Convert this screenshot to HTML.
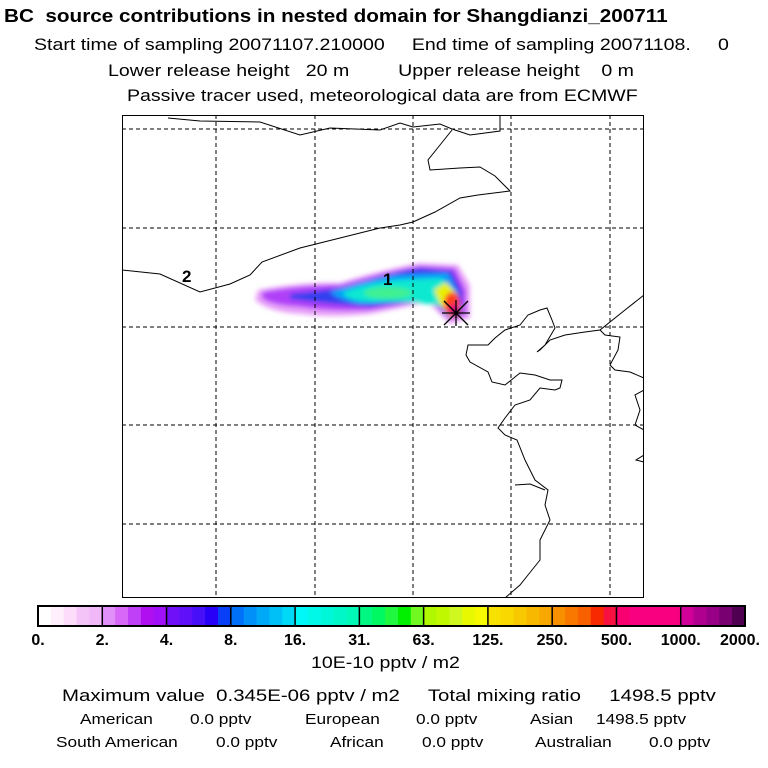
<!DOCTYPE html>
<html><head><meta charset="utf-8"><style>
body{margin:0;background:#fff;width:768px;height:768px;overflow:hidden;font-family:"Liberation Sans",sans-serif}
.t{position:absolute;white-space:nowrap;color:#000;transform:scaleX(1.15);transform-origin:0 0}
</style></head><body>
<div class="t" style="left:4px;top:6px;font-size:18px;font-weight:bold">BC&nbsp; source contributions in nested domain for Shangdianzi_200711</div>
<div class="t" style="left:34px;top:35px;font-size:17px">Start time of sampling 20071107.210000 &nbsp;&nbsp;&nbsp; End time of sampling 20071108. &nbsp;&nbsp;&nbsp; 0</div>
<div class="t" style="left:108px;top:61px;font-size:17px">Lower release height &nbsp; 20 m &nbsp; &nbsp; &nbsp; &nbsp; Upper release height &nbsp;&nbsp; 0 m</div>
<div class="t" style="left:127px;top:86px;font-size:17px">Passive tracer used, meteorological data are from ECMWF</div>
<svg width="768" height="768" style="position:absolute;left:0;top:0">
<defs><filter id="b" x="-20%" y="-50%" width="140%" height="200%"><feGaussianBlur stdDeviation="2.5"/></filter>
<clipPath id="c"><rect x="122" y="115" width="522" height="483"/></clipPath></defs>
<g clip-path="url(#c)">
<g filter="url(#b)">
<path d="M258,290 Q300,282 340,283 Q380,270 420,263 L458,265 L470,285 L470,318 L450,324 L438,312 L428,302 Q400,308 370,314 Q330,318 300,314 Q268,312 255,300 Z" fill="#e8a0f8"/>
<path d="M262,292 Q300,285 340,285 Q380,273 420,266 L455,268 L466,290 L466,315 L450,320 L438,308 L430,299 Q400,305 370,310 Q330,312 300,307 Q270,305 262,298 Z" fill="#b040f8"/>
<path d="M290,294 Q330,290 355,285 Q390,272 420,268 L452,271 L462,292 L462,313 L448,318 L436,302 Q400,303 370,307 Q330,304 290,299 Z" fill="#3040f0"/>
<path d="M330,292 Q360,281 395,275 L448,273 L458,294 L458,313 L447,316 L436,300 Q400,302 360,304 Q338,300 330,292 Z" fill="#00a0f8"/>
<path d="M342,293 Q370,282 400,280 L442,278 L455,298 L455,313 L440,306 Q405,300 375,302 Q350,302 342,293 Z" fill="#10e8d0"/>
<ellipse cx="388" cy="293" rx="24" ry="6" fill="#40f090"/>
<path d="M434,290 L446,282 L458,295 L462,312 L450,318 L440,304 Z" fill="#e8f000"/>
<ellipse cx="452" cy="304" rx="8" ry="12" fill="#ff4020"/>
<ellipse cx="455" cy="311" rx="6" ry="7" fill="#e00080"/>
<ellipse cx="457" cy="313" rx="3" ry="4" fill="#600060"/>
</g></g>
<g stroke="#000" stroke-width="1" stroke-dasharray="4,3" fill="none">
<line x1="216" y1="115" x2="216" y2="598"/><line x1="315" y1="115" x2="315" y2="598"/><line x1="413" y1="115" x2="413" y2="598"/><line x1="511" y1="115" x2="511" y2="598"/><line x1="610" y1="115" x2="610" y2="598"/>
<line x1="122" y1="129" x2="644" y2="129"/><line x1="122" y1="228" x2="644" y2="228"/><line x1="122" y1="327" x2="644" y2="327"/><line x1="122" y1="425" x2="644" y2="425"/><line x1="122" y1="524" x2="644" y2="524"/>
</g>
<g clip-path="url(#c)" stroke="#000" stroke-width="1" fill="none">
<path d="M168,118 L200,121 L260,122 L300,135 L330,128 L380,130 L400,123 L413,127 L440,124 L452,129 L470,135 L500,131 L500,116"/>
<path d="M452,130 L440,145 L428,160 L430,170 L460,168 L480,167 L495,176 L510,191 L478,195 L460,198 L435,212 L413,222 L400,225 L380,228 L340,238 L300,248 L262,262 L250,275 L230,284 L200,292 L160,274 L122,270"/>
<path d="M644,295 L625,310 L600,330 L585,332 L565,335 L550,340 L540,350 L537,352 L545,345 L555,328 L552,320 L547,308 L540,310 L528,315 L520,325 L505,330 L495,338 L488,345 L468,345 L466,355 L470,362 L488,372 L492,382 L505,385 L520,373 L535,375 L550,380 L562,380 L560,388 L555,390 L540,388 L530,400 L515,405 L505,418 L498,428 L505,435 L517,440 L525,460 L535,480 L548,490 L545,505 L550,520 L540,540 L540,560 L528,575 L520,585 L505,598"/>
<path d="M600,330 L605,335 L620,337 L618,350 L610,365 L615,370 L630,372 L644,378"/>
<path d="M515,485 L530,484 L545,490"/>
<path d="M644,390 L635,395 L640,410 L635,425 L644,430 M644,455 L636,460 L644,462"/>
</g>
<g stroke="#000" stroke-width="1.3">
<line x1="442" y1="313" x2="470" y2="313"/><line x1="456" y1="300" x2="456" y2="326"/><line x1="444" y1="301" x2="468" y2="325"/><line x1="468" y1="301" x2="444" y2="325"/>
</g>
<text x="182" y="282" font-size="17" font-family="Liberation Sans" font-weight="bold">2</text>
<text x="383" y="285" font-size="17" font-family="Liberation Sans" font-weight="bold">1</text>
<rect x="122.5" y="115.5" width="521" height="482" fill="none" stroke="#000"/>
<g id="cb"></g>
</svg>
<div class="t" style="left:311px;top:653px;font-size:17px">10E-10 pptv / m2</div>
<div class="t" style="left:62px;top:686px;font-size:17px;transform:scaleX(1.2)">Maximum value&nbsp; 0.345E-06 pptv / m2 &nbsp; &nbsp; Total mixing ratio &nbsp; &nbsp; 1498.5 pptv</div>
<div class="t" style="left:80px;top:711px;font-size:15px">American</div>
<div class="t" style="left:190px;top:711px;font-size:15px">0.0 pptv</div>
<div class="t" style="left:305px;top:711px;font-size:15px">European</div>
<div class="t" style="left:416px;top:711px;font-size:15px">0.0 pptv</div>
<div class="t" style="left:530px;top:711px;font-size:15px">Asian</div>
<div class="t" style="left:596px;top:711px;font-size:15px">1498.5 pptv</div>
<div class="t" style="left:56px;top:734px;font-size:15px">South American</div>
<div class="t" style="left:216px;top:734px;font-size:15px">0.0 pptv</div>
<div class="t" style="left:330px;top:734px;font-size:15px">African</div>
<div class="t" style="left:422px;top:734px;font-size:15px">0.0 pptv</div>
<div class="t" style="left:535px;top:734px;font-size:15px">Australian</div>
<div class="t" style="left:649px;top:734px;font-size:15px">0.0 pptv</div>
<script>
const tickLabels=["0.","2.","4.","8.","16.","31.","63.","125.","250.","500.","1000.","2000."];
const segColors=[
["#ffffff","#ffeefc","#fcdcfa","#f4c4f8","#f0b8f8"],
["#e090f8","#d868f8","#c040f8","#b010f0","#a010f8"],
["#7010f8","#6010f8","#4810f8","#2800f8","#0840f8"],
["#0070f8","#0090f8","#00a8f8","#00c0f8","#00d8f8"],
["#00f8f8","#00f8e8","#00f8d8","#00f8c8","#00f8b8"],
["#00f880","#00f860","#20f840","#00f000","#70f820"],
["#b0f800","#c0f800","#d0f820","#e8f800","#f8f800"],
["#f8e000","#f8d800","#f8c800","#f8b800","#f8a800"],
["#f89000","#f87800","#f86000","#f82800","#f81040"],
["#f80070","#f80080","#f80080","#f80080","#f80080"],
["#d00098","#b00090","#980088","#780070","#500050"]];
const cb=document.getElementById('cb');
const x0=38,x1=745,y0=606,h=20,NS="http://www.w3.org/2000/svg";
const segW=(x1-x0)/segColors.length;
segColors.forEach((seg,i)=>{seg.forEach((c,j)=>{
 const r=document.createElementNS(NS,'rect');
 r.setAttribute('x',x0+i*segW+j*segW/5);r.setAttribute('y',y0);
 r.setAttribute('width',segW/5+0.5);r.setAttribute('height',h);r.setAttribute('fill',c);
 
 
 cb.appendChild(r);});
 const l=document.createElementNS(NS,'line');
 l.setAttribute('x1',x0+i*segW);l.setAttribute('x2',x0+i*segW);l.setAttribute('y1',y0);l.setAttribute('y2',y0+h);
 l.setAttribute('stroke','#000');l.setAttribute('stroke-width','1.5');
 
 
 cb.appendChild(l);});
const fr=document.createElementNS(NS,'rect');
fr.setAttribute('x',x0);fr.setAttribute('y',y0);fr.setAttribute('width',x1-x0);fr.setAttribute('height',h);
fr.setAttribute('fill','none');fr.setAttribute('stroke','#000');fr.setAttribute('stroke-width','2');


cb.appendChild(fr);
tickLabels.forEach((t,i)=>{
 const tx=document.createElementNS(NS,'text');
 let x=x0+i*segW;
 tx.setAttribute('x',x);tx.setAttribute('y',645);
 tx.setAttribute('text-anchor',i==tickLabels.length-1?'end':'middle');
 if(i==tickLabels.length-1)tx.setAttribute('x',x+15);
 tx.setAttribute('font-size','16');tx.setAttribute('font-weight','bold');tx.setAttribute('font-family','Liberation Sans');
 tx.textContent=t;
 
 
 cb.appendChild(tx);});
</script>
</body></html>
